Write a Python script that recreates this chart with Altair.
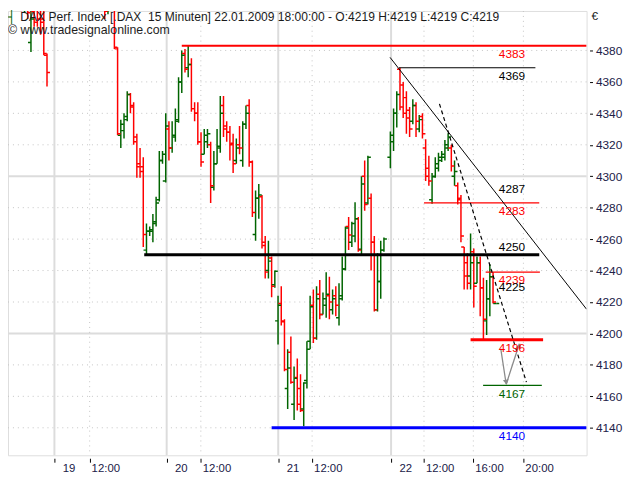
import altair as alt
import pandas as pd

# ---------------- data ----------------
bar_index = [6, 7, 8, 9, 10, 11, 12, 13, 14,
             29, 30, 31, 32, 33, 34, 35, 36, 37, 38, 39, 40, 41, 42, 43, 44, 45, 46, 47, 48, 49, 50,
             51, 52, 53, 54, 55, 56, 57, 58, 59, 60, 61, 62, 63, 64, 65, 66, 67, 68, 69, 70,
             71, 72, 73, 74, 75, 76, 77, 78, 79, 80, 81, 82, 83, 84, 85,
             86, 87, 88, 89, 90, 91, 92, 93, 94, 95, 96, 97, 98, 99, 100,
             101, 102, 103, 104, 105, 106, 107, 108, 109, 110, 111, 112, 113, 114, 115,
             116, 117, 118, 119,
             121, 122, 123, 124, 125, 126, 127, 128, 129, 130, 131, 132, 133, 134, 135,
             136, 137, 138, 139, 140, 141, 142, 143, 144, 145, 146, 147, 148, 149, 150,
             151, 152, 153, 154]
bar_open = [4420, 4407, 4415, 4385, 4405, 4410, 4408, 4400, 4377,
            4425, 4410, 4420, 4418, 4405, 4418, 4412, 4381, 4326, 4329, 4338, 4352, 4345, 4325, 4308, 4306, 4253, 4265, 4265, 4271, 4285, 4310,
            4297, 4330, 4318, 4325, 4336, 4360, 4378, 4369, 4371, 4343, 4340, 4322, 4314, 4322, 4320, 4293, 4308, 4318, 4345, 4332,
            4328, 4321, 4310, 4320, 4310, 4333, 4345, 4309, 4263, 4286, 4287, 4256, 4240, 4248, 4231,
            4208, 4219, 4207.5, 4165, 4188, 4155, 4172, 4165, 4152, 4170, 4195, 4218, 4197, 4225, 4212,
            4218, 4224, 4215, 4224, 4210, 4224, 4241, 4268, 4258, 4262, 4273, 4253.6, 4300, 4283, 4286,
            4258, 4215, 4233, 4253,
            4312, 4326, 4340, 4368, 4358, 4350, 4342, 4335, 4345, 4330, 4338, 4318, 4305, 4285, 4300,
            4305, 4310, 4312, 4318, 4318, 4300, 4294, 4286, 4255, 4245, 4236.5, 4252, 4232, 4245, 4229,
            4208, 4222, 4236, 4219]
bar_high = [4425, 4420, 4418, 4412, 4415, 4420, 4415, 4410, 4378,
            4430, 4425, 4428, 4422, 4418, 4425, 4416, 4382, 4336, 4340, 4354, 4353, 4347, 4327, 4318, 4312, 4270, 4268, 4276, 4287, 4316, 4316,
            4340, 4335, 4335, 4343, 4363, 4380, 4381, 4383, 4375, 4347, 4347, 4328, 4330, 4330, 4322, 4316, 4330, 4351, 4351, 4335,
            4332, 4327, 4324, 4332, 4335, 4345, 4349, 4310, 4291, 4295, 4288, 4262, 4259, 4249, 4240,
            4224, 4230, 4209, 4190, 4198, 4179, 4184, 4174, 4169, 4195, 4224, 4228, 4230, 4234, 4226,
            4239, 4236, 4228, 4230, 4232, 4249, 4268, 4274, 4271, 4283.5, 4274, 4300, 4310, 4313, 4289,
            4262, 4251, 4259, 4261,
            4328.5, 4343, 4354, 4369, 4360, 4354, 4344, 4349, 4347, 4339, 4340, 4323.5, 4313, 4302, 4312,
            4315, 4316, 4323, 4327.4, 4320, 4310, 4296, 4288, 4255, 4251, 4263.6, 4254, 4249, 4249, 4235.4,
            4234, 4244, 4239, 4219]
bar_low = [4405, 4404, 4400, 4379, 4395, 4395, 4390, 4377, 4357,
           4408, 4406, 4410, 4400, 4403, 4408, 4381, 4326, 4318, 4324, 4335, 4340, 4320, 4299, 4299, 4255, 4250, 4262, 4258, 4268, 4284, 4308,
           4296, 4310, 4315, 4322, 4334, 4353, 4366, 4363, 4341, 4335, 4320, 4306, 4314, 4318, 4283, 4291, 4308, 4315, 4325, 4322,
           4310, 4302, 4308, 4314, 4306, 4330, 4306, 4274, 4259, 4273, 4254, 4235, 4235, 4223, 4229,
           4193, 4205, 4176, 4152, 4168, 4145, 4151, 4150, 4141, 4165, 4190, 4194, 4196, 4209, 4212,
           4210, 4209, 4212, 4211, 4205, 4221, 4240, 4253, 4255, 4258, 4252, 4250.6, 4278, 4282, 4240,
           4214, 4214, 4222, 4252,
           4305, 4316, 4331, 4342, 4337, 4327, 4325, 4333, 4325, 4328, 4324, 4297, 4294, 4282.5, 4299,
           4303, 4309, 4310, 4316, 4303, 4294, 4282, 4258, 4228, 4228, 4228, 4216.5, 4232, 4211, 4196.5,
           4199, 4211, 4219, 4219]
bar_close = [4407, 4415, 4404, 4400, 4398, 4400, 4398, 4378, 4366,
             4410, 4420, 4414, 4405, 4415, 4412, 4382, 4327, 4333, 4336, 4352, 4344, 4322, 4306, 4303, 4263, 4265, 4266, 4270, 4283, 4310, 4314,
             4332, 4318, 4326, 4335, 4360, 4377, 4368, 4371, 4343, 4340, 4322, 4309, 4326, 4327, 4294, 4308, 4319, 4340, 4330, 4328,
             4320, 4308, 4318, 4318, 4333, 4340, 4309, 4277, 4286, 4288, 4258, 4239, 4246, 4230, 4239.5,
             4218, 4208, 4177, 4178, 4169, 4171.5, 4155, 4151, 4168.5, 4190, 4217, 4197, 4222, 4212, 4222,
             4225, 4220, 4222, 4218, 4222, 4241, 4267, 4262.6, 4270, 4273, 4253, 4295, 4282, 4312, 4258,
             4215, 4233, 4253, 4260,
             4322, 4340, 4352, 4344, 4340, 4337, 4330, 4345, 4335, 4336, 4327, 4300, 4297, 4299.6, 4308,
             4312, 4314, 4320, 4325, 4306.5, 4303, 4285, 4262, 4236.5, 4232, 4245, 4230, 4245, 4229, 4209,
             4222, 4236, 4220, 4219]

# support / resistance levels
level_value = [4383, 4369, 4283, 4250, 4239, 4196, 4167, 4140]
level_start = [56, 123.7, 131.5, 44.3, 150.7, 146.0, 149.9, 84.0]
level_end = [182.15, 166.2, 167.4, 167.4, 167.6, 168.6, 168.2, 182.15]
level_color = ["#ff0000", "#000000", "#ff0000", "#000000", "#ff0000", "#ff0000", "#006400", "#0000ff"]
level_width = [2, 1.2, 1.2, 3, 1.5, 3, 1.2, 3]

label_text = ["4383", "4369", "4287", "4283", "4250", "4239", "4225", "4196", "4167", "4140"]
label_value = [4383, 4369, 4287, 4283, 4250, 4239, 4225, 4196, 4167, 4140]
label_side = ["below", "below", "above", "below", "above", "below", "above", "below", "below", "below"]
label_color = ["#ff0000", "#000000", "#000000", "#ff0000", "#000000", "#ff0000", "#000000", "#ff0000", "#006400", "#0000ff"]
label_pos = 158.9

# trend lines
trend_n = [120.9, 182.15]
trend_v = [4375.6, 4215.4]
dash_n = [136.3, 163.4]
dash_v = [4346, 4169]

# projection arrows
arrow_n = [155.4, 157.1, 161.2]
arrow_v = [4190.3, 4167.7, 4193.4]

# axes
y_ticks = list(range(4140, 4381, 20))
grid_dotted = [4140, 4160, 4180, 4220, 4240, 4260, 4280, 4320, 4340, 4360, 4380]
grid_solid = [4200, 4300]
day_ticks = [16.31, 51.29, 86.06, 121.23]
day_labels = ["19", "20", "21", "22"]
hour_ticks = [27.29, 61.94, 96.62, 131.48, 146.86, 162.46]
hour_labels = ["12:00", "12:00", "12:00", "12:00", "16:00", "20:00"]

title_text = "DAX Perf. Index [.DAX\u00a0 15 Minuten] 22.01.2009 18:00:00 - O:4219 H:4219 L:4219 C:4219"
source_text = "\u00a9 www.tradesignalonline.com"

# ---------------- chart ----------------
FONT = "Liberation Sans"
LABEL_COLOR = "#202048"
xscale = alt.Scale(domain=[1.846, 182.15], nice=False, zero=False)
yscale = alt.Scale(domain=[4122.5, 4405.1], nice=False, zero=False)
x_axis = alt.Axis(values=day_ticks + hour_ticks, labels=False, domain=False, grid=False,
                  ticks=True, tickSize=4, offset=3, tickColor="black", title=None)
y_axis = alt.Axis(orient="right", values=y_ticks, format="d", tickSize=3, offset=3, domain=False, grid=False,
                  labelPadding=3, labelFontSize=12, labelFont=FONT, labelColor=LABEL_COLOR,
                  tickColor="black", title=None, labelOverlap=False, labelFlush=False)


def X(f):
    return alt.X(f, type="quantitative", scale=xscale, axis=x_axis)


def X2(f):
    return alt.X2(f)


def Y(f):
    return alt.Y(f, type="quantitative", scale=yscale, axis=y_axis)


bars = pd.DataFrame({"n": bar_index, "o": bar_open, "h": bar_high, "l": bar_low, "c": bar_close})
bars["dir"] = ["up" if c >= o else "down" for o, c in zip(bar_open, bar_close)]
col = alt.Color("dir:N", scale=alt.Scale(domain=["up", "down"], range=["#006400", "#ff0000"]), legend=None)

gd = pd.DataFrame({"v": grid_dotted})
gs = pd.DataFrame({"v": grid_solid})
vd = pd.DataFrame({"n": hour_ticks})
vs = pd.DataFrame({"n": day_ticks})

grid_h_dot = alt.Chart(gd).mark_rule(color="#c4c4c4", strokeDash=[1, 4], strokeWidth=1).encode(y=Y("v"))
grid_h_sol = alt.Chart(gs).mark_rule(color="#dcdcdc", strokeWidth=2).encode(y=Y("v"))
grid_v_dot = alt.Chart(vd).mark_rule(color="#c4c4c4", strokeDash=[1, 4], strokeWidth=1).encode(x=X("n"))
grid_v_sol = alt.Chart(vs).mark_rule(color="#dcdcdc", strokeWidth=2).encode(x=X("n"))

bar_base = alt.Chart(bars)
hl = bar_base.mark_rule(strokeWidth=1.5, clip=True).encode(x=X("n"), y=Y("l"), y2=alt.Y2("h"), color=col)
op = bar_base.mark_rule(strokeWidth=1.5, clip=True, xOffset=-3, x2Offset=0).encode(
    x=X("n"), x2=X2("n"), y=Y("o"), color=col)
cl = bar_base.mark_rule(strokeWidth=1.5, clip=True, xOffset=0, x2Offset=3).encode(
    x=X("n"), x2=X2("n"), y=Y("c"), color=col)

lv = pd.DataFrame({"v": level_value, "s": level_start, "e": level_end, "col": level_color, "w": level_width})
levels = alt.Chart(lv).mark_rule(clip=True).encode(
    x=X("s"), x2=X2("e"), y=Y("v"),
    color=alt.Color("col:N", scale=None), strokeWidth=alt.StrokeWidth("w:Q", scale=None))

tr = pd.DataFrame({"n": trend_n, "v": trend_v})
trend = alt.Chart(tr).mark_line(color="black", strokeWidth=1, clip=True).encode(x=X("n"), y=Y("v"))
ds = pd.DataFrame({"n": dash_n, "v": dash_v})
dash = alt.Chart(ds).mark_line(color="black", strokeWidth=1.2, strokeDash=[4, 3]).encode(x=X("n"), y=Y("v"))

ar = pd.DataFrame({"n": arrow_n, "v": arrow_v, "k": [0, 1, 2]})
arrow = alt.Chart(ar).mark_line(color="#8a8a8a", strokeWidth=1.3).encode(x=X("n"), y=Y("v"), order="k:Q")
head_down = alt.Chart(ar.iloc[[1]]).mark_point(shape="triangle-down", filled=True, color="#8a8a8a",
                                               size=35, angle=351, opacity=1, yOffset=-2).encode(x=X("n"), y=Y("v"))
head_up = alt.Chart(ar.iloc[[2]]).mark_point(shape="triangle-up", filled=True, color="#8a8a8a",
                                             size=35, angle=18, opacity=1, yOffset=2).encode(x=X("n"), y=Y("v"))

lb = pd.DataFrame({"t": label_text, "v": label_value, "side": label_side, "col": label_color})
lb["n"] = label_pos
lab_below = alt.Chart(lb[lb.side == "below"]).mark_text(fontSize=12, font=FONT, dy=8.5, baseline="middle").encode(
    x=X("n"), y=Y("v"), text="t:N", color=alt.Color("col:N", scale=None))
lab_above = alt.Chart(lb[lb.side == "above"]).mark_text(fontSize=12, font=FONT, dy=-7.5, baseline="middle").encode(
    x=X("n"), y=Y("v"), text="t:N", color=alt.Color("col:N", scale=None))

dl = pd.DataFrame({"n": day_ticks, "t": day_labels})
hlb = pd.DataFrame({"n": hour_ticks, "t": hour_labels})
xlab_day = alt.Chart(dl).mark_text(align="left", baseline="middle", dx=8.5, fontSize=11.5, font=FONT,
                                   color=LABEL_COLOR).encode(x=X("n"), y=alt.value(463.5), text="t:N")
xlab_hour = alt.Chart(hlb).mark_text(align="left", baseline="middle", dx=2, fontSize=11.5, font=FONT,
                                     color=LABEL_COLOR).encode(x=X("n"), y=alt.value(463.5), text="t:N")

ttl = alt.Chart(pd.DataFrame({"t": [title_text]})).mark_text(
    align="left", baseline="alphabetic", fontSize=12.2, font=FONT, color="#1a1a1a").encode(
    x=alt.value(12.5), y=alt.value(10), text="t:N")
glyph = alt.Chart(pd.DataFrame({"t": ["\u2524"]})).mark_text(
    align="left", baseline="alphabetic", fontSize=12, font="DejaVu Sans", color="#006400").encode(
    x=alt.value(0), y=alt.value(10), text="t:N")
src = alt.Chart(pd.DataFrame({"t": [source_text]})).mark_text(
    align="left", baseline="alphabetic", fontSize=12.5, font=FONT, color="#1e1e1e").encode(
    x=alt.value(0), y=alt.value(23.5), text="t:N")
euro = alt.Chart(pd.DataFrame({"t": ["\u20ac"]})).mark_text(
    align="left", baseline="alphabetic", fontSize=12, font=FONT, color="#1e1e1e").encode(
    x=alt.value(591), y=alt.value(9), text="t:N")

chart = alt.layer(
    grid_h_dot, grid_h_sol, grid_v_dot, grid_v_sol,
    hl, op, cl,
    levels, trend, dash, arrow, head_down, head_up,
    lab_below, lab_above, xlab_day, xlab_hour,
    ttl, glyph, src, euro,
).properties(
    width=586, height=450,
    autosize=alt.AutoSizeParams(type="none"),
    padding={"left": 0, "top": 0, "right": 46, "bottom": 22},
).configure_view(stroke="black", strokeWidth=1.5).configure(background="white")

chart.save("out.html", embed_options={"renderer": "svg", "actions": False})
